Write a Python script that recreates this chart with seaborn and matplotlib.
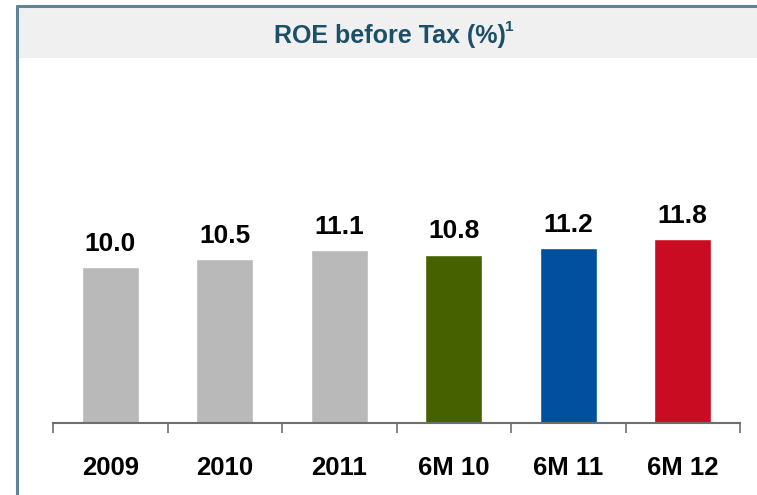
import matplotlib
matplotlib.use('Agg')
import matplotlib.pyplot as plt
from matplotlib.patches import Rectangle
from matplotlib.lines import Line2D
import pandas as pd
import seaborn as sns

periods = ['2009', '2010', '2011', '6M 10', '6M 11', '6M 12']
roe = [10.0, 10.5, 11.1, 10.8, 11.2, 11.8]
bar_colors = ['#b9b9b9', '#b9b9b9', '#b9b9b9', '#466200', '#00509f', '#c90c22']
title = 'ROE before Tax (%)'
footnote = '1'

sns.set_theme(style='white')
plt.rcParams['font.family'] = ['Liberation Sans', 'DejaVu Sans']

df = pd.DataFrame({'period': periods, 'roe': roe})

W, H = 757, 495
fig = plt.figure(figsize=(W / 100, H / 100), dpi=100)
fig.patch.set_facecolor('white')

# header band and frame
fig.patches.append(Rectangle((17 / W, 1 - 58 / H), 1, 51 / H, transform=fig.transFigure,
                             facecolor='#f0f0f0', edgecolor='none', zorder=0))
frame_col = '#5f8494'
fig.lines.append(Line2D([17 / W, 1], [1 - 6 / H, 1 - 6 / H], transform=fig.transFigure,
                        color=frame_col, lw=2.2))
fig.lines.append(Line2D([17 / W, 17 / W], [0, 1 - 6 / H], transform=fig.transFigure,
                        color=frame_col, lw=2.2))

t = fig.text(390 / W, 1 - 36 / H, title, ha='center', va='center',
             fontsize=18, fontweight='bold', color='#1b5068')
fig.canvas.draw()
bb = t.get_window_extent()
fig.text((bb.x1 - 1) / W, 1 - 27 / H, footnote, ha='left', va='center',
         fontsize=11, fontweight='bold', color='#1b5068')

ax = fig.add_axes([53 / W, (H - 423) / H, (740 - 53) / W, (423 - 58) / H])
ax.set_facecolor('none')
sns.barplot(data=df, x='period', y='roe', hue='period', palette=bar_colors,
            width=0.5, legend=False, saturation=1, ax=ax)

for c in ax.containers:
    ax.bar_label(c, fmt='%.1f', padding=8, fontsize=19, fontweight='bold', color='black')

ax.set_xlim(-0.5, 5.5)
ax.set_ylim(0, 365 / 15.6)
ax.set_xlabel('')
ax.set_ylabel('')
ax.set_yticks([])
for s in ['top', 'right', 'left']:
    ax.spines[s].set_visible(False)
ax.spines['bottom'].set_color('#6e6e6e')
ax.spines['bottom'].set_linewidth(1.5)

ax.set_xticks(range(len(periods)))
ax.set_xticklabels(periods, fontsize=18.5, fontweight='bold', color='black')
ax.tick_params(axis='x', which='major', bottom=False, length=0, pad=24)
ax.set_xticks([i - 0.5 for i in range(len(periods) + 1)], minor=True)
ax.tick_params(axis='x', which='minor', bottom=True, length=7, width=1.2,
               color='#6e6e6e', direction='out')

fig.savefig('out.png', dpi=100)
